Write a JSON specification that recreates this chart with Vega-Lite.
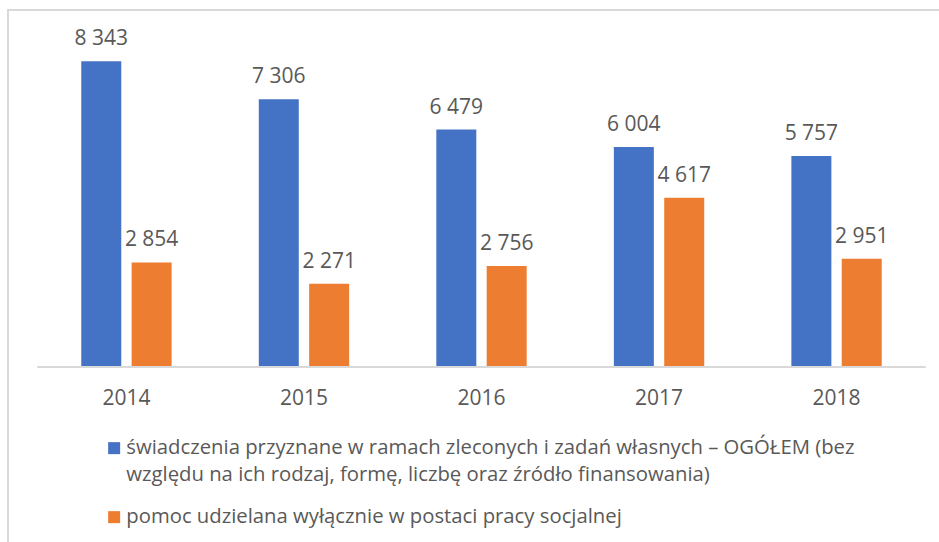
{
  "$schema": "https://vega.github.io/schema/vega-lite/v6.json",
  "autosize": {"type": "none"},
  "padding": {"left": 8, "top": 10, "right": 0, "bottom": 0},
  "width": 947,
  "height": 550,
  "background": "white",
  "config": {
    "view": {"stroke": "#d9d9d9", "strokeWidth": 2},
    "font": "Open Sans",
    "style": {"guide-label": {"lineHeight": 27}}
  },
  "resolve": {"scale": {"x": "independent"}},
  "layer": [
    {
      "data": {
        "values": [
          {"rok": "2014", "seria": "świadczenia przyznane w ramach zleconych i zadań własnych – OGÓŁEM (bez względu na ich rodzaj, formę, liczbę oraz źródło finansowania)", "wartosc": 8343, "etykieta": "8 343"},
          {"rok": "2014", "seria": "pomoc udzielana wyłącznie w postaci pracy socjalnej", "wartosc": 2854, "etykieta": "2 854"},
          {"rok": "2015", "seria": "świadczenia przyznane w ramach zleconych i zadań własnych – OGÓŁEM (bez względu na ich rodzaj, formę, liczbę oraz źródło finansowania)", "wartosc": 7306, "etykieta": "7 306"},
          {"rok": "2015", "seria": "pomoc udzielana wyłącznie w postaci pracy socjalnej", "wartosc": 2271, "etykieta": "2 271"},
          {"rok": "2016", "seria": "świadczenia przyznane w ramach zleconych i zadań własnych – OGÓŁEM (bez względu na ich rodzaj, formę, liczbę oraz źródło finansowania)", "wartosc": 6479, "etykieta": "6 479"},
          {"rok": "2016", "seria": "pomoc udzielana wyłącznie w postaci pracy socjalnej", "wartosc": 2756, "etykieta": "2 756"},
          {"rok": "2017", "seria": "świadczenia przyznane w ramach zleconych i zadań własnych – OGÓŁEM (bez względu na ich rodzaj, formę, liczbę oraz źródło finansowania)", "wartosc": 6004, "etykieta": "6 004"},
          {"rok": "2017", "seria": "pomoc udzielana wyłącznie w postaci pracy socjalnej", "wartosc": 4617, "etykieta": "4 617"},
          {"rok": "2018", "seria": "świadczenia przyznane w ramach zleconych i zadań własnych – OGÓŁEM (bez względu na ich rodzaj, formę, liczbę oraz źródło finansowania)", "wartosc": 5757, "etykieta": "5 757"},
          {"rok": "2018", "seria": "pomoc udzielana wyłącznie w postaci pracy socjalnej", "wartosc": 2951, "etykieta": "2 951"}
        ]
      },
      "encoding": {
        "x": {
          "field": "rok",
          "type": "nominal",
          "scale": {"paddingInner": 0.491, "paddingOuter": 0.4127},
          "axis": {
            "orient": "bottom",
            "offset": -193,
            "domain": false,
            "ticks": false,
            "labelPadding": 20,
            "labelFontSize": 21,
            "labelFont": "Open Sans",
            "labelColor": "#595959",
            "labelAngle": 0,
            "title": null
          }
        },
        "xOffset": {
          "field": "seria",
          "type": "nominal",
          "sort": [
            "świadczenia przyznane w ramach zleconych i zadań własnych – OGÓŁEM (bez względu na ich rodzaj, formę, liczbę oraz źródło finansowania)",
            "pomoc udzielana wyłącznie w postaci pracy socjalnej"
          ],
          "scale": {"paddingInner": 0.206, "paddingOuter": 0}
        },
        "y": {
          "field": "wartosc",
          "type": "quantitative",
          "scale": {"domain": [-5268, 9743], "nice": false, "zero": false},
          "axis": null
        }
      },
      "layer": [
        {
          "mark": {"type": "bar"},
          "encoding": {
            "y2": {"datum": 0},
            "color": {
              "field": "seria",
              "type": "nominal",
              "scale": {
                "domain": [
                  "świadczenia przyznane w ramach zleconych i zadań własnych – OGÓŁEM (bez względu na ich rodzaj, formę, liczbę oraz źródło finansowania)",
                  "pomoc udzielana wyłącznie w postaci pracy socjalnej"
                ],
                "range": ["#4472C4", "#ED7D31"]
              },
              "legend": {
                "orient": "none",
                "legendX": 96,
                "legendY": 428,
                "direction": "vertical",
                "title": null,
                "padding": 0,
                "symbolType": "square",
                "symbolSize": 144,
                "symbolStrokeWidth": 0,
                "labelFont": "Open Sans",
                "labelFontSize": 20.3,
                "labelColor": "#595959",
                "labelLimit": 1000,
                "labelOffset": 2,
                "rowPadding": 21,
                "labelExpr": "indexof(datum.label, 'świadczenia') == 0 ? ['świadczenia przyznane w ramach zleconych i zadań własnych – OGÓŁEM (bez', 'względu na ich rodzaj, formę, liczbę oraz źródło finansowania)'] : datum.label"
              }
            }
          }
        },
        {
          "mark": {
            "type": "text",
            "baseline": "alphabetic",
            "dy": -16,
            "fontSize": 21,
            "font": "Open Sans",
            "color": "#595959"
          },
          "encoding": {
            "text": {"field": "etykieta", "type": "nominal"}
          }
        }
      ]
    },
    {
      "data": {"values": [{"linia": "oś"}]},
      "mark": {"type": "rule", "color": "#d9d9d9", "strokeWidth": 2},
      "encoding": {
        "x": {
          "datum": 0,
          "type": "quantitative",
          "scale": {"domain": [-0.03298, 1.03298], "nice": false, "zero": false},
          "axis": null
        },
        "x2": {"datum": 1},
        "y": {"datum": 0, "type": "quantitative", "axis": null}
      }
    }
  ]
}
